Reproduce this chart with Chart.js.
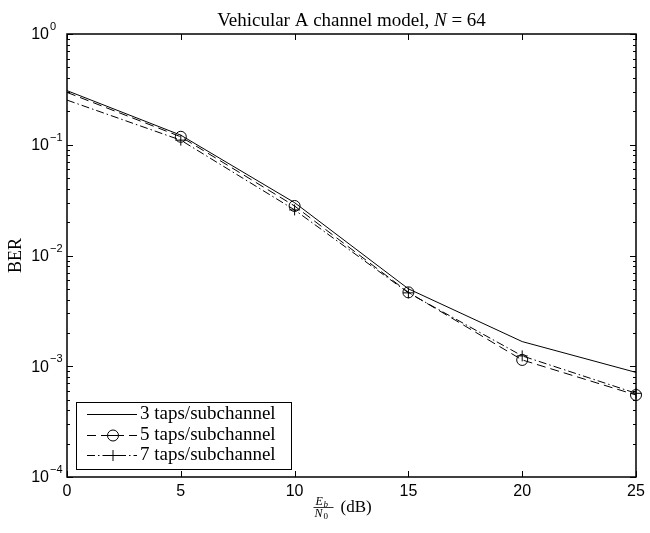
<!DOCTYPE html>
<html>
<head>
<meta charset="utf-8">
<script src="https://cdn.jsdelivr.net/npm/chart.js@4/dist/chart.umd.min.js"></script>
<style>
  html, body { margin: 0; padding: 0; background: #fff; }
  canvas { display: block; }
</style>
</head>
<body>
<canvas id="ber" width="650" height="533"></canvas>
<script>
// Eb/N0 in dB and the BER
const snrDb = [0, 5, 10, 15, 20, 25];
const ber3taps = [0.308, 0.122, 0.030, 0.0050, 0.00167, 0.00088];
const ber5taps = [0.297, 0.118, 0.028, 0.00465, 0.00114, 0.00055];
const ber7taps = [0.253, 0.110, 0.0258, 0.0046, 0.00124, 0.00057];
const seriesNames = ['3 taps/subchannel', '5 taps/subchannel', '7 taps/subchannel'];

const xTicks = [0, 5, 10, 15, 20, 25];
const yExponents = [0, -1, -2, -3, -4];

const SERIF = '"Liberation Serif", "DejaVu Serif", serif';
const SANS = '"Liberation Sans", Arial, sans-serif';

const toPoints = ys => snrDb.map((x, i) => ({ x, y: ys[i] }));
// no marker on the first point (it sits on the axis in the original)
const markerSize = r => snrDb.map(x => (x === 0 ? 0 : r));

// draws the inward ticks, the labels, title and the legend box (MATLAB look)
const matlabFrame = {
  id: 'matlabFrame',
  afterDraw(chart) {
    const { ctx, chartArea: a, scales: { x, y } } = chart;
    ctx.save();
    ctx.strokeStyle = '#000';
    ctx.fillStyle = '#000';

    ctx.lineWidth = 1;
    ctx.beginPath();
    xTicks.forEach(v => {
      const px = Math.round(x.getPixelForValue(v)) + 0.5;
      ctx.moveTo(px, a.bottom); ctx.lineTo(px, a.bottom - 6);
      ctx.moveTo(px, a.top); ctx.lineTo(px, a.top + 6);
    });
    yExponents.forEach(e => {
      const py = Math.round(y.getPixelForValue(Math.pow(10, e))) + 0.5;
      ctx.moveTo(a.left, py); ctx.lineTo(a.left + 6, py);
      ctx.moveTo(a.right, py); ctx.lineTo(a.right - 6, py);
      if (e > -4) {
        for (let m = 2; m <= 9; m++) {
          const pm = Math.round(y.getPixelForValue(m * Math.pow(10, e - 1))) + 0.5;
          ctx.moveTo(a.left, pm); ctx.lineTo(a.left + 3, pm);
          ctx.moveTo(a.right, pm); ctx.lineTo(a.right - 3, pm);
        }
      }
    });
    ctx.stroke();

    ctx.lineWidth = 1.5;
    ctx.strokeRect(a.left, a.top, a.right - a.left, a.bottom - a.top);

    // x tick labels
    ctx.font = '16px ' + SANS;
    ctx.textAlign = 'center';
    ctx.textBaseline = 'middle';
    xTicks.forEach(v => ctx.fillText(String(v), x.getPixelForValue(v), a.bottom + 15));

    // y tick labels 10^e
    yExponents.forEach(e => {
      const py = y.getPixelForValue(Math.pow(10, e));
      ctx.font = '16px ' + SANS;
      ctx.textAlign = 'right';
      ctx.fillText('10', a.left - 18, py + 1);
      ctx.font = '11px ' + SANS;
      ctx.textAlign = 'left';
      ctx.fillText(e === 0 ? '0' : '\u2212' + Math.abs(e), a.left - 17, py - 7);
    });

    // title with italic N
    const cx = (a.left + a.right) / 2;
    const parts = [
      ['Vehicular A channel model, ', '19px ' + SERIF],
      ['N', 'italic 19px ' + SERIF],
      [' = 64', '19px ' + SERIF]
    ];
    let total = 0;
    parts.forEach(([t, f]) => { ctx.font = f; total += ctx.measureText(t).width; });
    let tx = cx - total / 2;
    ctx.textAlign = 'left';
    ctx.textBaseline = 'alphabetic';
    parts.forEach(([t, f]) => { ctx.font = f; ctx.fillText(t, tx, 26); tx += ctx.measureText(t).width; });

    // x label: Eb/N0 (dB)
    const fx = cx - 38;
    ctx.font = 'italic 12px ' + SERIF;
    ctx.fillText('E', fx + 2, a.bottom + 28);
    ctx.font = 'italic 9px ' + SERIF;
    ctx.fillText('b', fx + 10, a.bottom + 30);
    ctx.font = 'italic 12px ' + SERIF;
    ctx.fillText('N', fx + 1, a.bottom + 40);
    ctx.font = '9px ' + SERIF;
    ctx.fillText('0', fx + 10, a.bottom + 42);
    ctx.lineWidth = 0.8;
    ctx.beginPath();
    ctx.moveTo(fx, a.bottom + 30.5); ctx.lineTo(fx + 20, a.bottom + 30.5);
    ctx.stroke();
    ctx.font = '17px ' + SERIF;
    ctx.textBaseline = 'middle';
    ctx.fillText('(dB)', fx + 27, a.bottom + 31);

    // y label
    ctx.save();
    ctx.translate(16, (a.top + a.bottom) / 2);
    ctx.rotate(-Math.PI / 2);
    ctx.font = '18px ' + SERIF;
    ctx.textAlign = 'center';
    ctx.fillText('BER', 0, 0);
    ctx.restore();

    // legend
    const lx = a.left + 9, ly = 402, lw = 215, lh = 67;
    ctx.fillStyle = '#fff';
    ctx.fillRect(lx, ly, lw, lh);
    ctx.fillStyle = '#000';
    ctx.lineWidth = 1;
    ctx.strokeRect(lx + 0.5, ly + 0.5, lw, lh);
    chart.data.datasets.forEach((ds, i) => {
      const ry = Math.round(ly + 12 + i * 20.5) + 0.5;
      ctx.setLineDash(ds.borderDash || []);
      ctx.lineWidth = ds.borderWidth;
      ctx.beginPath();
      ctx.moveTo(lx + 11, ry); ctx.lineTo(lx + 61, ry);
      ctx.stroke();
      ctx.setLineDash([]);
      if (ds.pointStyle === 'circle' || ds.pointStyle === 'cross') {
        const mx = lx + 37;
        ctx.fillStyle = '#fff';
        if (ds.pointStyle === 'circle') {
          ctx.beginPath(); ctx.arc(mx, ry, 5.5, 0, 2 * Math.PI); ctx.fill(); ctx.stroke();
          ctx.beginPath(); ctx.moveTo(mx - 5.5, ry); ctx.lineTo(mx + 5.5, ry); ctx.stroke();
        } else {
          ctx.beginPath();
          ctx.moveTo(mx - 5.5, ry); ctx.lineTo(mx + 5.5, ry);
          ctx.moveTo(mx, ry - 5.5); ctx.lineTo(mx, ry + 5.5);
          ctx.stroke();
        }
        ctx.fillStyle = '#000';
      }
      ctx.font = '19px ' + SERIF;
      ctx.textAlign = 'left';
      ctx.textBaseline = 'middle';
      ctx.fillText(ds.label, lx + 64, ry);
    });
    ctx.restore();
  }
};

new Chart(document.getElementById('ber'), {
  type: 'line',
  data: {
    datasets: [
      {
        label: seriesNames[0],
        data: toPoints(ber3taps),
        borderColor: '#000',
        borderWidth: 1,
        pointRadius: 0,
        clip: false
      },
      {
        label: seriesNames[1],
        data: toPoints(ber5taps),
        borderColor: '#000',
        borderWidth: 1,
        borderDash: [9, 5],
        pointStyle: 'circle',
        pointRadius: markerSize(5.5),
        pointBorderColor: '#000',
        pointBackgroundColor: 'rgba(0,0,0,0)',
        pointBorderWidth: 1,
        clip: false
      },
      {
        label: seriesNames[2],
        data: toPoints(ber7taps),
        borderColor: '#000',
        borderWidth: 1,
        borderDash: [8, 3, 1.5, 3],
        pointStyle: 'cross',
        pointRadius: markerSize(5.5),
        pointBorderColor: '#000',
        pointBorderWidth: 1,
        clip: false
      }
    ]
  },
  options: {
    responsive: false,
    animation: false,
    events: [],
    layout: { padding: { top: 34, right: 14, left: 0, bottom: 0 } },
    plugins: { legend: { display: false }, tooltip: { enabled: false }, title: { display: false } },
    scales: {
      x: {
        type: 'linear', min: 0, max: 25,
        grid: { display: false }, border: { display: false },
        ticks: { display: false },
        afterFit(s) { s.height = 56; }
      },
      y: {
        type: 'logarithmic', min: 1e-4, max: 1,
        grid: { display: false }, border: { display: false },
        ticks: { display: false },
        afterFit(s) { s.width = 67; }
      }
    }
  },
  plugins: [matlabFrame]
});
</script>
</body>
</html>
